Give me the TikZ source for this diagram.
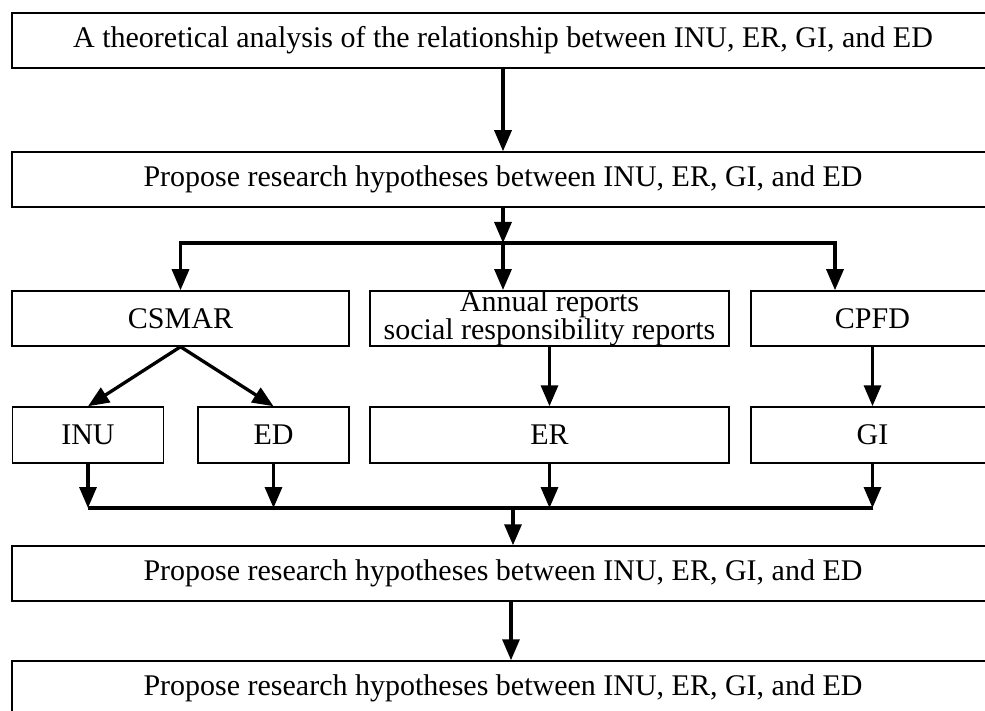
\documentclass[tikz,border=0pt]{standalone}
\usepackage{fontspec}
\setmainfont{Liberation Serif}
\usetikzlibrary{arrows.meta, positioning, calc}

\begin{document}
\begin{tikzpicture}[
    x=1pt, y=-1pt,
    every node/.style={draw, line width=1.5pt, inner sep=0pt, align=center, font=\fontsize{30}{27}\selectfont},
    wide/.style={minimum width=982pt, minimum height=55pt},
    src/.style={minimum height=55pt},
    var/.style={minimum height=56pt},
    flow/.style={line width=3.3pt, -{Triangle[length=21pt, width=17pt]}},
    bus/.style={line width=3.3pt}
]
\useasboundingbox (0,0) rectangle (985,711);
\clip (0,0) rectangle (985,711);

\node[wide] (theory) at (503, 40.5) {A theoretical analysis of the relationship between INU, ER, GI, and ED};
\node[wide] (hypo1) at (503, 179.5) {Propose research hypotheses between INU, ER, GI, and ED};

\node[src, minimum width=337pt] (csmar) at (180.5, 318.5) {CSMAR};
\node[src, minimum width=359pt] (annual) at (549.5, 318.5) {Annual reports\\social responsibility reports};
\node[src, minimum width=243pt] (cpfd) at (872.5, 318.5) {CPFD};

\node[var, minimum width=151pt] (inu) at (88, 435) {INU};
\node[var, minimum width=151pt] (ed) at (273.5, 435) {ED};
\node[var, minimum width=359pt] (er) at (549.5, 435) {ER};
\node[var, minimum width=243pt] (gi) at (872.5, 435) {GI};

\node[wide] (hypo2) at (503, 573.5) {Propose research hypotheses between INU, ER, GI, and ED};
\node[wide] (hypo3) at (503, 688.5) {Propose research hypotheses between INU, ER, GI, and ED};

% split after the hypotheses
\coordinate (busA) at (503, 243);
\coordinate (busR) at (835, 243);
\draw[flow] (theory) -- (hypo1);
\draw[flow] (hypo1) -- (busA);
\draw[flow] (busA) -| (csmar.north);
\draw[flow] (busA) -- (busA |- annual.north);
\draw[flow] (busA) -- (busR) -- (busR |- cpfd.north);

% data sources to variables
\draw[flow] (csmar.south) -- (inu.north);
\draw[flow] (csmar.south) -- (ed.north);
\draw[flow] (annual) -- (er);
\draw[flow] (cpfd) -- (gi);

% merge of the variables
\coordinate (busL) at (88, 508);
\coordinate (busE) at (872.5, 508);
\coordinate (busB) at (513, 508);
\draw[bus] (busL) -- (busE);
\draw[flow] (inu) -- (busL);
\draw[flow] (ed) -- (ed |- busL);
\draw[flow] (er) -- (er |- busL);
\draw[flow] (gi) -- (busE);
\draw[flow] (busB) -- (busB |- hypo2.north);
\draw[flow] ($(hypo2.south)+(8,0)$) -- ($(hypo3.north)+(8,0)$);
\end{tikzpicture}
\end{document}
